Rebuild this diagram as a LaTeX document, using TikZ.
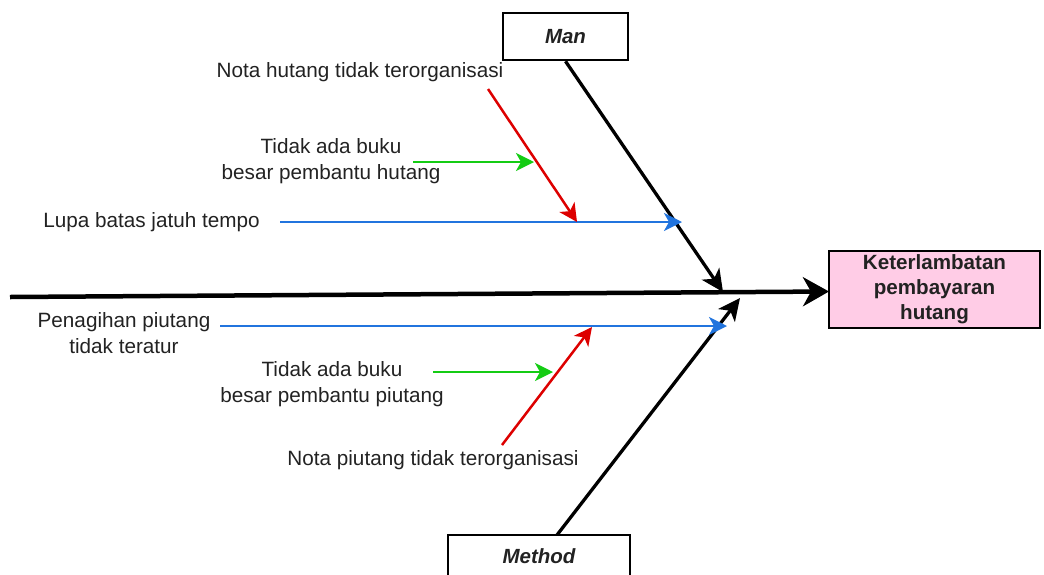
\documentclass[tikz,border=0pt]{standalone}
\usepackage{fontspec}
\setmainfont{Liberation Sans}
\usetikzlibrary{arrows.meta}
\definecolor{bluec}{RGB}{33,116,222}
\definecolor{redc}{RGB}{221,0,0}
\definecolor{greenc}{RGB}{20,204,20}
\definecolor{pinkc}{RGB}{255,204,230}
\definecolor{txtc}{RGB}{34,34,34}
\begin{document}
\begin{tikzpicture}[x=1pt,y=-1pt,
  lbl/.style={font=\fontsize{20.7}{25.5}\selectfont, text=txtc, inner sep=0pt, align=center},
  catbox/.style={draw=black, line width=2.5pt, fill=white, text=txtc,
    font=\fontsize{20.5}{25}\selectfont\bfseries\itshape, inner sep=0pt},
  effbox/.style={draw=black, line width=1.5pt, fill=pinkc, text=txtc, align=center,
    font=\fontsize{20.6}{25}\selectfont\bfseries, inner sep=0pt},
  spine/.style={line width=4.5pt, -{Stealth[length=26pt,width=29pt,inset=8pt]}},
  bone/.style={line width=3.3pt, -{Stealth[length=22pt,width=21pt,inset=6pt]}},
  cause/.style={line width=2.5pt, -{Stealth[length=18pt,width=18pt,inset=5pt]}}
]
\useasboundingbox (0,0) rectangle (1044,574);

% boxes
\node[catbox, minimum width=125pt, minimum height=47pt] (man) at (565.5,36.5) {Man};
\node[catbox, minimum width=182pt, minimum height=43pt] (method) at (539,556.5) {Method};
\node[effbox, minimum width=211pt, minimum height=77pt] (eff) at (934.5,289.5)
  {Keterlambatan\\pembayaran\\hutang};

% labels
\node[lbl] (nh) at (360,72) {Nota hutang tidak terorganisasi};
\node[lbl] (bh) at (331,161) {Tidak ada buku\\besar pembantu hutang};
\node[lbl] (lp) at (151.5,222) {Lupa batas jatuh tempo};
\node[lbl] (pp) at (124,333) {Penagihan piutang\\tidak teratur};
\node[lbl] (bp) at (332,384) {Tidak ada buku\\besar pembantu piutang};
\node[lbl] (np) at (433,460) {Nota piutang tidak terorganisasi};

% coordinates
\coordinate (spS) at (10,297);
\coordinate (spE) at (829,291.5);
\coordinate (manT) at (723,292);
\coordinate (methS) at (557,535);
\coordinate (methT) at (740,298);
\coordinate (btS) at (280,222);
\coordinate (btE) at (682,222);
\coordinate (rtS) at (488,89);
\coordinate (rtE) at (577,222);
\coordinate (gtS) at (413,162);
\coordinate (gtE) at (534,162);
\coordinate (bbS) at (220,326);
\coordinate (bbE) at (727,326);
\coordinate (rbS) at (502,445);
\coordinate (rbE) at (592,327);
\coordinate (gbS) at (433,372);
\coordinate (gbE) at (553,372);

% spine and bones
\draw[spine] (spS) -- (spE);
\draw[bone] (man.south) -- (manT);
\draw[bone] (methS) -- (methT);

% causes
\draw[cause, draw=bluec, fill=bluec] (btS) -- (btE);
\draw[cause, draw=redc, fill=redc] (rtS) -- (rtE);
\draw[cause, draw=greenc, fill=greenc] (gtS) -- (gtE);
\draw[cause, draw=bluec, fill=bluec] (bbS) -- (bbE);
\draw[cause, draw=redc, fill=redc] (rbS) -- (rbE);
\draw[cause, draw=greenc, fill=greenc] (gbS) -- (gbE);
\end{tikzpicture}
\end{document}
